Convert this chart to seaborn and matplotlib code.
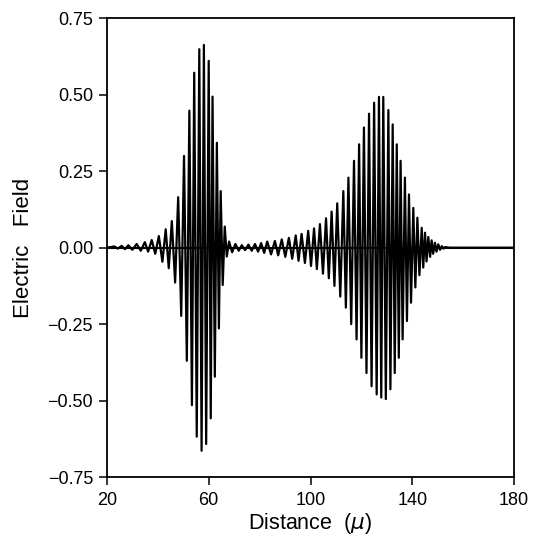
import matplotlib
matplotlib.use("Agg")
import matplotlib.pyplot as plt
import numpy as np
import pandas as pd
import seaborn as sns

# crest positions (micron) and field values
peak_x = [22.9, 25.8, 28.4, 31.7, 34.9, 37.6, 40.4, 43.1, 45.5, 48.0,
          50.3, 52.4, 54.3, 56.3, 58.1, 60.0, 61.5, 63.2, 64.7, 66.3,
          68.0, 70.5, 73.0, 75.6, 78.2, 80.6, 83.0, 86.0, 88.7, 91.5,
          94.2, 96.5, 99.1, 101.4, 103.7, 106.1, 108.3, 110.5, 112.9, 114.9,
          117.1, 119.1, 121.0, 123.0, 125.0, 126.9, 128.6, 130.6, 132.3, 133.9,
          135.4, 137.1, 138.7, 140.4, 142.0, 143.7, 145.0, 146.3, 147.6, 148.9,
          150.2, 151.6, 152.9]
peak_y = [0.004, 0.006, 0.008, 0.012, 0.018, 0.025, 0.038, 0.060, 0.087, 0.165,
          0.300, 0.448, 0.572, 0.649, 0.663, 0.611, 0.494, 0.343, 0.185, 0.069,
          0.020, 0.012, 0.008, 0.010, 0.012, 0.015, 0.020, 0.022, 0.027, 0.032,
          0.040, 0.045, 0.055, 0.063, 0.077, 0.096, 0.118, 0.145, 0.185, 0.229,
          0.284, 0.338, 0.393, 0.438, 0.474, 0.493, 0.493, 0.450, 0.403, 0.338,
          0.284, 0.229, 0.174, 0.130, 0.098, 0.065, 0.049, 0.035, 0.024, 0.016,
          0.011, 0.005, 0.002]

# trough positions and values
trough_x = [24.3, 27.1, 30.0, 33.3, 36.2, 39.0, 41.8, 44.3, 46.8, 49.2,
            51.4, 53.4, 55.3, 57.2, 59.0, 60.8, 62.4, 64.0, 65.5, 67.1,
            69.2, 71.8, 74.3, 76.9, 79.4, 81.8, 84.5, 87.3, 90.1, 92.8,
            95.3, 97.8, 100.2, 102.5, 104.9, 107.2, 109.4, 111.7, 113.9, 116.0,
            118.1, 120.0, 122.0, 124.0, 126.0, 127.8, 129.6, 131.4, 133.1, 134.7,
            136.2, 137.9, 139.5, 141.2, 142.8, 144.3, 145.6, 147.0, 148.2, 149.5,
            150.9, 152.2]
trough_y = [-0.003, -0.005, -0.007, -0.010, -0.013, -0.020, -0.046, -0.067, -0.114, -0.223,
            -0.370, -0.515, -0.618, -0.664, -0.642, -0.558, -0.422, -0.264, -0.122, -0.029,
            -0.015, -0.010, -0.008, -0.010, -0.013, -0.017, -0.022, -0.025, -0.030, -0.036,
            -0.043, -0.050, -0.060, -0.070, -0.085, -0.100, -0.125, -0.160, -0.196, -0.250,
            -0.300, -0.360, -0.410, -0.453, -0.480, -0.490, -0.495, -0.463, -0.410, -0.360,
            -0.300, -0.240, -0.180, -0.130, -0.090, -0.065, -0.045, -0.030, -0.020, -0.013,
            -0.007, -0.003]

# flat ends of the trace
edge_x = [20.0, 154.5, 180.0]
edge_y = [0.0, 0.0, 0.0]

x_ticks = [20, 60, 100, 140, 180]
y_ticks = [-0.75, -0.50, -0.25, 0.00, 0.25, 0.50, 0.75]

df = pd.DataFrame({
    "x": peak_x + trough_x + edge_x,
    "y": peak_y + trough_y + edge_y,
}).sort_values("x").reset_index(drop=True)

sns.set_style("ticks")
plt.rcParams["font.family"] = ["Liberation Sans", "DejaVu Sans"]
plt.rcParams["mathtext.fontset"] = "dejavusans"
plt.rcParams["text.color"] = "black"
plt.rcParams["axes.labelcolor"] = "black"

fig = plt.figure(figsize=(5.4, 5.39), dpi=100)
ax = fig.add_axes([0.198, 0.115, 0.754, 0.851])

ax.axhline(0, color="black", lw=1.5, zorder=1)
sns.lineplot(data=df, x="x", y="y", sort=False, estimator=None,
             color="black", lw=1.6, ax=ax, zorder=2)

ax.set_xlim(20, 180)
ax.set_ylim(-0.75, 0.75)
ax.set_xticks(x_ticks)
ax.set_xticklabels([str(t) for t in x_ticks])
ax.set_yticks(y_ticks)
ax.set_yticklabels([f"{t:.2f}".replace("-", "\u2212") for t in y_ticks])
ax.tick_params(direction="out", length=6, width=1.1, labelsize=13,
               colors="black", pad=4)
ax.tick_params(axis="x", pad=5)
for s in ax.spines.values():
    s.set_linewidth(1.3)
    s.set_color("black")

ax.set_xlabel(r"Distance  ($\mu$)", fontsize=15.5, labelpad=1)
ax.set_ylabel("Electric   Field", fontsize=16, labelpad=10)

fig.savefig("out.png", dpi=100)
